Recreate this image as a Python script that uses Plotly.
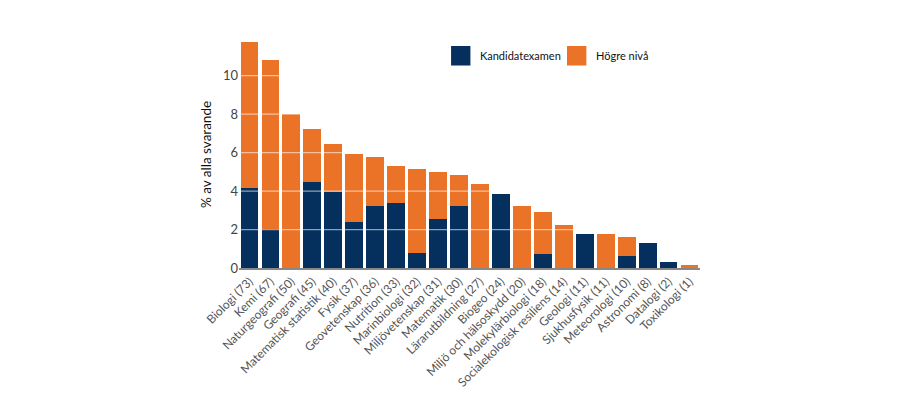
import plotly.graph_objects as go

categories = ["Biologi (73)", "Kemi (67)", "Naturgeografi (50)", "Geografi (45)",
              "Matematisk statistik (40)", "Fysik (37)", "Geovetenskap (36)",
              "Nutrition (33)", "Marinbiologi (32)", "Miljövetenskap (31)",
              "Matematik (30)", "Lärarutbildning (27)", "Biogeo (24)",
              "Miljö och hälsoskydd (20)", "Molekylärbiologi (18)",
              "Socialekologisk resiliens (14)", "Geologi (11)", "Sjukhusfysik (11)",
              "Meteorologi (10)", "Astronomi (8)", "Datalogi (2)", "Toxikologi (1)"]
totals = [11.77, 10.82, 8.03, 7.23, 6.43, 5.95, 5.79, 5.30, 5.15, 4.99, 4.82, 4.35,
          3.86, 3.22, 2.89, 2.24, 1.77, 1.77, 1.60, 1.29, 0.30, 0.16]
kandidat = [4.17, 2.05, 0.0, 4.47, 3.95, 2.38, 3.20, 3.36, 0.77, 2.54, 3.20, 0.0,
            3.86, 0.0, 0.75, 0.0, 1.77, 0.0, 0.61, 1.29, 0.30, 0.0]
hogre = [round(t - k, 2) for t, k in zip(totals, kandidat)]
yticks = [0, 2, 4, 6, 8, 10]
series_names = ["Kandidatexamen", "Högre nivå"]

NAVY = "#05305e"
ORANGE = "#ea7327"
colors = [NAVY, ORANGE]

fig = go.Figure()
for name, vals, col in zip(series_names, [kandidat, hogre], colors):
    fig.add_trace(go.Bar(x=categories, y=vals, name=name, showlegend=False,
                         marker=dict(color=col, line=dict(width=0))))

for v in yticks[1:]:
    fig.add_shape(type="line", xref="paper", yref="y", x0=0, x1=1, y0=v, y1=v,
                  line=dict(color="rgba(255,255,255,0.55)", width=1.2), layer="above")

# custom legend (large squares as in the original)
legend_pos = [(0.460, 0.518), (0.7115, 0.770)]
for (sx, tx), name, col in zip(legend_pos, series_names, colors):
    fig.add_shape(type="rect", xref="paper", yref="paper",
                  x0=sx, x1=sx + 0.042, y0=0.892, y1=0.978,
                  fillcolor=col, line=dict(width=0))
    fig.add_annotation(xref="paper", yref="paper", x=tx, y=0.935, text=name,
                       showarrow=False, xanchor="left", yanchor="middle",
                       font=dict(size=11, color="#111"))

fig.update_layout(
    barmode="stack",
    bargap=0.15,
    width=900, height=420,
    margin=dict(l=231, r=208, t=33, b=160),
    paper_bgcolor="white", plot_bgcolor="white",
    font=dict(family="Lato, Open Sans, sans-serif", color="#333"),
    showlegend=False,
    xaxis=dict(tickangle=-45, tickfont=dict(size=12, color="#555"),
               showline=True, linecolor="#888", linewidth=1.5, ticks="",
               showgrid=False, automargin=False),
    yaxis=dict(range=[0, 11.8], tickvals=yticks, tickfont=dict(size=13, color="#444"),
               showgrid=False, zeroline=False, showline=False, ticks="",
               automargin=False,
               title=dict(text="% av alla svarande", font=dict(size=13.5, color="#111"),
                          standoff=8)),
)

fig.write_html("out.html")
